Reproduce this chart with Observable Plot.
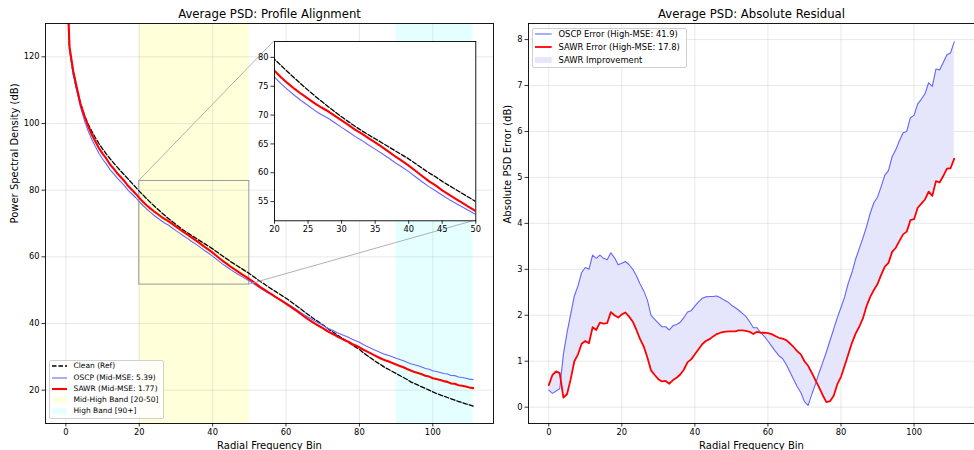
<!DOCTYPE html>
<html><head><meta charset="utf-8">
<script src="https://cdn.jsdelivr.net/npm/d3@7"></script>
<script src="https://cdn.jsdelivr.net/npm/@observablehq/plot@0.6"></script>
<style>
html,body{margin:0;padding:0;background:#fff;}
#root{position:relative;width:974px;height:450px;overflow:hidden;font-family:"DejaVu Sans",sans-serif;background:#fff;}
#root svg{position:absolute;overflow:visible;max-width:none;}
.legend{position:absolute;background:rgba(255,255,255,0.8);border:1px solid #d0d0d0;border-radius:2px;box-sizing:border-box;}
.legend span{position:absolute;white-space:nowrap;transform:translateY(-50%);color:#000;line-height:1;}
.legend svg{position:absolute;}
</style></head><body><div id="root"></div>
<script>
// ---------- data ----------
const clean = [150.0,122.3,115.0,110.0,106.0,102.7,100.0,97.8,95.8,94.0,
92.4,90.9,89.5,88.2,86.9,85.7,84.5,83.3,82.1,80.9,
79.7,78.57,77.46,76.39,75.34,74.33,73.34,72.39,71.46,70.57,
69.70,68.87,68.06,67.29,66.58,65.9,65.2,64.5,63.8,63.1,
62.4,61.6,60.8,60.0,59.3,58.5,57.8,57.1,56.4,55.7,
55.0,54.2,53.4,52.6,51.9,51.1,50.4,49.7,49.0,48.3,
47.6,46.8,46.0,45.2,44.4,43.5,42.7,41.9,41.1,40.4,
39.6,38.8,38.0,37.3,36.5,35.8,35.1,34.4,33.6,32.9,
32.2,31.3,30.5,29.7,28.9,28.2,27.5,26.8,26.2,25.6,
25.0,24.4,23.8,23.2,22.5,22.0,21.5,21.0,20.5,20.0,
19.5,19.0,18.6,18.2,17.8,17.4,17.0,16.6,16.3,15.9,
15.6,15.2];
const oscp = [149.63,122.0,114.65,109.6,104.85,101.08,97.98,95.38,93.16,91.07,
89.36,87.9,86.19,84.96,83.59,82.46,81.29,79.94,78.85,77.8,
76.57,75.40,74.36,73.39,72.48,71.65,70.81,70.06,69.46,68.66,
67.87,67.12,66.31,65.61,64.81,64.1,63.35,62.55,61.73,61.0,
60.2,59.31,58.43,57.6,56.89,56.09,55.38,54.72,54.07,53.41,
52.78,52.03,51.29,50.56,49.93,49.24,48.67,47.97,47.38,46.76,
46.16,45.47,44.78,44.08,43.34,42.57,41.93,41.29,40.65,40.08,
39.48,38.76,38.28,37.8,37.25,36.77,36.3,35.85,35.3,34.85,
34.37,33.7,33.2,32.63,32.12,31.65,31.18,30.73,30.42,30.05,
29.57,29.2,28.85,28.35,27.95,27.6,27.3,26.97,26.5,26.3,
25.85,25.6,25.3,25.02,24.86,24.38,24.36,23.94,23.8,23.57,
23.31,23.15];
const sawr = [150.48,123.0,115.78,110.74,105.79,102.42,99.39,96.8,94.65,92.62,
90.96,89.51,87.76,86.52,85.06,83.88,82.67,81.23,80.1,78.95,
77.68,76.51,75.49,74.53,73.66,72.85,72.02,71.31,70.66,69.87,
69.09,68.31,67.49,66.78,65.99,65.26,64.49,63.68,62.82,62.06,
61.25,60.34,59.43,58.56,57.82,56.96,56.21,55.48,54.76,54.05,
53.35,52.55,51.73,50.93,50.24,49.46,48.81,48.06,47.38,46.68,
45.99,45.21,44.45,43.69,42.91,42.04,41.31,40.59,39.88,39.25,
38.6,37.9,37.25,36.71,36.07,35.54,34.99,34.53,33.85,33.4,
32.86,32.2,31.65,31.1,30.5,29.95,29.43,29.0,28.6,28.15,
27.68,27.28,26.86,26.34,25.88,25.47,25.12,24.76,24.32,24.07,
23.59,23.34,23.03,22.72,22.49,22.0,21.92,21.49,21.33,21.09,
20.8,20.61];
const oscpErr = [0.37,0.30,0.35,0.40,1.15,1.62,2.02,2.42,2.64,2.93,
3.04,3.00,3.31,3.24,3.31,3.24,3.21,3.36,3.25,3.10,
3.13,3.17,3.10,3.00,2.86,2.68,2.53,2.33,2.00,1.91,
1.83,1.75,1.75,1.68,1.77,1.80,1.85,1.95,2.07,2.10,
2.20,2.29,2.37,2.40,2.41,2.41,2.42,2.38,2.33,2.29,
2.22,2.17,2.11,2.04,1.97,1.86,1.73,1.73,1.62,1.54,
1.44,1.33,1.22,1.12,1.06,0.93,0.77,0.61,0.45,0.32,
0.12,0.04,0.28,0.50,0.75,0.97,1.20,1.45,1.70,1.95,
2.17,2.40,2.70,2.93,3.22,3.45,3.68,3.93,4.22,4.45,
4.57,4.80,5.05,5.15,5.45,5.60,5.80,5.97,6.00,6.30,
6.35,6.60,6.70,6.82,7.06,6.98,7.36,7.34,7.50,7.67,
7.71,7.95];
const sawrErr = [0.48,0.70,0.78,0.74,0.21,0.28,0.61,1.00,1.15,1.38,
1.44,1.39,1.74,1.68,1.84,1.82,1.83,2.07,2.00,1.95,
2.02,2.06,1.97,1.86,1.68,1.48,1.32,1.08,0.80,0.70,
0.61,0.56,0.57,0.51,0.59,0.64,0.71,0.82,0.98,1.04,
1.15,1.26,1.37,1.44,1.48,1.54,1.59,1.62,1.64,1.65,
1.65,1.65,1.67,1.67,1.66,1.64,1.59,1.64,1.62,1.62,
1.61,1.59,1.55,1.51,1.49,1.46,1.39,1.31,1.22,1.15,
1.00,0.90,0.75,0.59,0.43,0.26,0.11,0.13,0.25,0.50,
0.66,0.90,1.15,1.40,1.60,1.75,1.93,2.20,2.40,2.55,
2.68,2.88,3.06,3.14,3.38,3.47,3.62,3.76,3.82,4.07,
4.09,4.34,4.43,4.52,4.69,4.60,4.92,4.89,5.03,5.19,
5.20,5.41];

const xTicks = [0, 20, 40, 60, 80, 100];
const yTicksL = [20, 40, 60, 80, 100, 120];
const yTicksR = [0, 1, 2, 3, 4, 5, 6, 7, 8];
const insetXTicks = [20, 25, 30, 35, 40, 45, 50];
const insetYTicks = [55, 60, 65, 70, 75, 80];
const bands = [
  {label: "Mid-High Band [20-50]", start: 20, end: 50, color: "#ffffd9"},
  {label: "High Band [90+]", start: 90, end: 111, color: "#e5ffff"}
];
const zoomX = [20, 50];
const zoomY = [51.67, 82.76];
const titles = ["Average PSD: Profile Alignment", "Average PSD: Absolute Residual"];
const xLabel = "Radial Frequency Bin";
const yLabels = ["Power Spectral Density (dB)", "Absolute PSD Error (dB)"];
const leftLegend = ["Clean (Ref)", "OSCP (Mid-MSE: 5.39)", "SAWR (Mid-MSE: 1.77)", "Mid-High Band [20-50]", "High Band [90+]"];
const rightLegend = ["OSCP Error (High-MSE: 41.9)", "SAWR Error (High-MSE: 17.8)", "SAWR Improvement"];

const rows = clean.map((c, i) => ({bin: i, clean: c, oscp: oscp[i], sawr: sawr[i], eo: oscpErr[i], es: sawrErr[i]}));

// ---------- styles ----------
const BLUE = "#6666ff", RED = "#ff0000", FILL = "#e5e5fc";
const GRID = {stroke: "#b0b0b0", strokeOpacity: 0.35, strokeWidth: 0.8};
const xDomain = [-5.55, 116.55];
const font = "DejaVu Sans";
const root = document.getElementById("root");

// ---------- left panel ----------
const left = Plot.plot({
  width: 500, height: 450, marginLeft: 45, marginRight: 7, marginTop: 23, marginBottom: 27,
  x: {domain: xDomain}, y: {domain: [10, 130]},
  style: {fontFamily: font, fontSize: "8.3px", background: "transparent", color: "#000"},
  marks: [
    ...bands.map(b => Plot.rect([b], {x1: "start", x2: "end", fill: b.color})),
    Plot.gridX(xTicks, GRID),
    Plot.gridY(yTicksL, GRID),
    Plot.rect([0], {x1: zoomX[0], x2: zoomX[1], y1: zoomY[0], y2: zoomY[1], fill: "none", stroke: "#9a9a9a", strokeWidth: 1}),
    Plot.line(rows, {x: "bin", y: "clean", stroke: "black", strokeWidth: 1.3, strokeDasharray: "4.5,2", clip: true}),
    Plot.line(rows, {x: "bin", y: "oscp", stroke: BLUE, strokeWidth: 1.1, clip: true}),
    Plot.line(rows, {x: "bin", y: "sawr", stroke: RED, strokeWidth: 2.1, clip: true}),
    Plot.axisX(xTicks, {tickSize: 3.5, tickPadding: 2, strokeWidth: 0.8, label: null}),
    Plot.axisY(yTicksL, {tickSize: 3.5, tickPadding: 2.5, strokeWidth: 0.8, label: null}),
    Plot.frame({stroke: "#000", strokeWidth: 0.9}),
    Plot.text([titles[0]], {text: d => d, frameAnchor: "top", dy: -9.5, fontSize: 11.7, lineAnchor: "middle"}),
    Plot.text([xLabel], {text: d => d, frameAnchor: "bottom", dy: 22.5, fontSize: 10, lineAnchor: "middle"}),
    Plot.text([yLabels[0]], {text: d => d, frameAnchor: "left", dx: -30.5, rotate: -90, fontSize: 10, lineAnchor: "middle"})
  ]
});
left.style.left = "0px"; left.style.top = "0px";
root.appendChild(left);

// ---------- inset ----------
const insetBox = {left: 274, top: 40.7, width: 201.3, height: 179.3};
const insetM = {l: 22, r: 1, t: 1, b: 18};
const insetRows = rows.filter(d => d.bin >= 19 && d.bin <= 51);
const inset = Plot.plot({
  width: insetBox.width + insetM.l + insetM.r, height: insetBox.height + insetM.t + insetM.b,
  marginLeft: insetM.l, marginRight: insetM.r, marginTop: insetM.t, marginBottom: insetM.b,
  x: {domain: zoomX}, y: {domain: zoomY},
  style: {fontFamily: font, fontSize: "8.3px", background: "transparent", color: "#000"},
  marks: [
    Plot.frame({fill: "white"}),
    Plot.line(insetRows, {x: "bin", y: "clean", stroke: "black", strokeWidth: 1.3, strokeDasharray: "4.5,2", clip: true}),
    Plot.line(insetRows, {x: "bin", y: "oscp", stroke: BLUE, strokeWidth: 1.1, clip: true}),
    Plot.line(insetRows, {x: "bin", y: "sawr", stroke: RED, strokeWidth: 2.1, clip: true}),
    Plot.axisX(insetXTicks, {tickSize: 3.5, tickPadding: 2, strokeWidth: 0.8, label: null}),
    Plot.axisY(insetYTicks, {tickSize: 3.5, tickPadding: 2.5, strokeWidth: 0.8, label: null}),
    Plot.frame({stroke: "#000", strokeWidth: 0.9})
  ]
});
inset.style.left = (insetBox.left - insetM.l) + "px";
inset.style.top = (insetBox.top - insetM.t) + "px";
root.appendChild(inset);

// connector lines (zoom box corners -> inset corners), via the left plot's scales
{
  const sx = left.scale("x"), sy = left.scale("y");
  const g = d3.select(left).append("g").attr("stroke", "#a8a8a8").attr("stroke-width", 0.9);
  g.append("line").attr("x1", sx.apply(zoomX[0])).attr("y1", sy.apply(zoomY[1]))
    .attr("x2", insetBox.left).attr("y2", insetBox.top);
  g.append("line").attr("x1", sx.apply(zoomX[1])).attr("y1", sy.apply(zoomY[0]))
    .attr("x2", insetBox.left + insetBox.width).attr("y2", insetBox.top + insetBox.height);
}

// ---------- right panel ----------
const right = Plot.plot({
  width: 474, height: 450, marginLeft: 28, marginRight: 0, marginTop: 23, marginBottom: 27,
  x: {domain: xDomain}, y: {domain: [-0.3555, 8.35]},
  style: {fontFamily: font, fontSize: "8.3px", background: "transparent", color: "#000"},
  marks: [
    Plot.gridX(xTicks, GRID),
    Plot.gridY(yTicksR, GRID),
    Plot.areaY(rows, {x: "bin", y1: "eo", y2: "es", fill: FILL}),
    Plot.line(rows, {x: "bin", y: "eo", stroke: BLUE, strokeWidth: 1.1}),
    Plot.line(rows, {x: "bin", y: "es", stroke: RED, strokeWidth: 1.8}),
    Plot.axisX(xTicks, {tickSize: 3.5, tickPadding: 2, strokeWidth: 0.8, label: null}),
    Plot.axisY(yTicksR, {tickSize: 3.5, tickPadding: 2.5, strokeWidth: 0.8, label: null}),
    Plot.frame({stroke: "#000", strokeWidth: 0.9}),
    Plot.text([titles[1]], {text: d => d, frameAnchor: "top", dy: -9.5, fontSize: 11.7, lineAnchor: "middle"}),
    Plot.text([xLabel], {text: d => d, frameAnchor: "bottom", dy: 22.5, fontSize: 10, lineAnchor: "middle"}),
    Plot.text([yLabels[1]], {text: d => d, frameAnchor: "left", dx: -21, rotate: -90, fontSize: 10, lineAnchor: "middle"})
  ]
});
right.style.left = "500px"; right.style.top = "0px";
root.appendChild(right);

// ---------- legends ----------
function legend(box, entries) {
  const div = document.createElement("div");
  div.className = "legend";
  Object.assign(div.style, {left: box.left + "px", top: box.top + "px", width: box.width + "px", height: box.height + "px"});
  entries.forEach((e, i) => {
    const cy = box.firstY + i * box.step - box.top - 1;
    const svg = d3.create("svg").attr("width", box.handleW).attr("height", 10)
      .style("left", (box.handleX - box.left - 1) + "px").style("top", (cy - 5) + "px");
    if (e.type === "line") {
      svg.append("line").attr("x1", 0).attr("x2", box.handleW).attr("y1", 5).attr("y2", 5)
        .attr("stroke", e.stroke).attr("stroke-width", e.width).attr("stroke-dasharray", e.dash || null);
    } else {
      svg.append("rect").attr("x", 0).attr("y", 5 - box.patchH / 2).attr("width", box.handleW).attr("height", box.patchH)
        .attr("fill", e.fill);
    }
    div.appendChild(svg.node());
    const sp = document.createElement("span");
    sp.textContent = e.label;
    Object.assign(sp.style, {left: (box.textX - box.left - 1) + "px", top: cy + "px", fontSize: box.fontSize + "px", fontFamily: font});
    div.appendChild(sp);
  });
  root.appendChild(div);
}
legend({left: 49.3, top: 360, width: 115, height: 59, firstY: 366.4, step: 11.25, handleX: 52.3, handleW: 15, textX: 73.5, fontSize: 7.5, patchH: 5.3}, [
  {type: "line", stroke: "black", width: 1.3, dash: "4.5,2", label: leftLegend[0]},
  {type: "line", stroke: BLUE, width: 1.1, label: leftLegend[1]},
  {type: "line", stroke: RED, width: 2.1, label: leftLegend[2]},
  {type: "patch", fill: bands[0].color, label: leftLegend[3]},
  {type: "patch", fill: bands[1].color, label: leftLegend[4]}
]);
legend({left: 531.7, top: 27.7, width: 155, height: 40, firstY: 34.4, step: 12.8, handleX: 535, handleW: 16.7, textX: 558.5, fontSize: 8.4, patchH: 5.8}, [
  {type: "line", stroke: BLUE, width: 1.1, label: rightLegend[0]},
  {type: "line", stroke: RED, width: 1.8, label: rightLegend[1]},
  {type: "patch", fill: FILL, label: rightLegend[2]}
]);
</script></body></html>
